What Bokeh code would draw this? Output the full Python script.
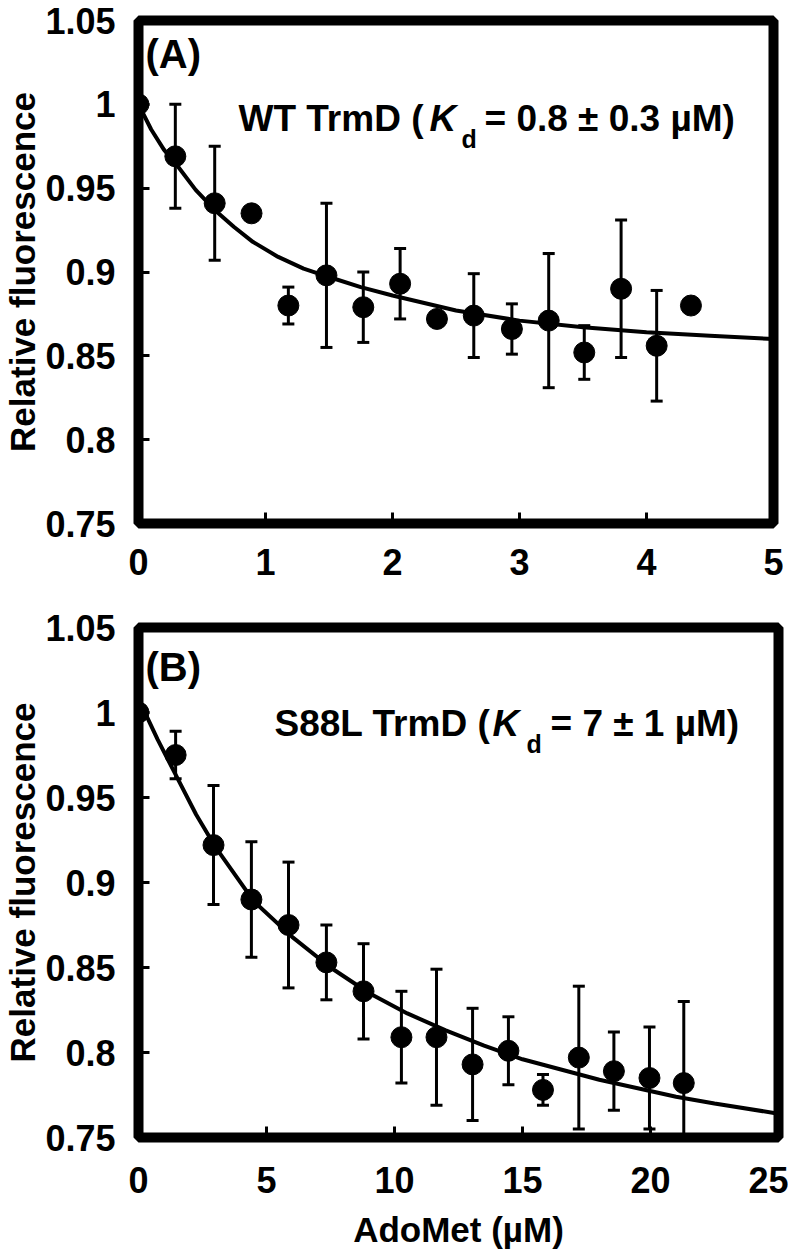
from bokeh.plotting import figure
from bokeh.layouts import column
from bokeh.models import FixedTicker, Label, Range1d, ColumnDataSource
from bokeh.embed import file_html
from bokeh.resources import INLINE

FONT = "Liberation Sans"

# ---------------- Panel A : WT TrmD ----------------
a_conc = [0.0, 0.29, 0.60, 0.89, 1.18, 1.48, 1.77, 2.06, 2.35, 2.64, 2.94, 3.23, 3.51, 3.80, 4.08, 4.35]
a_fluor = [1.000, 0.969, 0.941, 0.935, 0.880, 0.898, 0.879, 0.893, 0.872, 0.874, 0.866, 0.871, 0.852, 0.890, 0.856, 0.880]
a_err = [0.0, 0.031, 0.034, 0.0, 0.011, 0.043, 0.021, 0.021, 0.0, 0.025, 0.015, 0.040, 0.016, 0.041, 0.033, 0.0]
a_fit_x = [0.0, 0.1, 0.2, 0.3, 0.45, 0.6, 0.75, 0.9, 1.1, 1.3, 1.5, 1.75, 2.0, 2.5, 3.0, 3.5, 4.0, 4.5, 5.0]
a_fit_y = [1.000, 0.985, 0.973, 0.964, 0.949, 0.937, 0.927, 0.918, 0.909, 0.902, 0.897, 0.891, 0.886, 0.877, 0.871, 0.867, 0.864, 0.862, 0.860]
a_xticks = [0, 1, 2, 3, 4, 5]
a_xlabels = ["0", "1", "2", "3", "4", "5"]

# ---------------- Panel B : S88L TrmD ----------------
b_conc = [0.0, 1.45, 2.93, 4.41, 5.86, 7.34, 8.79, 10.27, 11.64, 13.05, 14.45, 15.8, 17.2, 18.57, 19.96, 21.3]
b_fluor = [1.000, 0.975, 0.922, 0.890, 0.875, 0.853, 0.836, 0.809, 0.809, 0.793, 0.801, 0.778, 0.797, 0.789, 0.785, 0.782]
b_err = [0.0, 0.014, 0.035, 0.034, 0.037, 0.022, 0.028, 0.027, 0.040, 0.033, 0.020, 0.009, 0.042, 0.023, 0.030, 0.048]
b_fit_x = [0.0, 0.75, 1.5, 2.25, 3.0, 4.5, 6.0, 7.5, 9.0, 10.5, 12.0, 13.5, 15.0, 16.5, 18.0, 19.5, 21.0, 22.5, 25.0]
b_fit_y = [1.008, 0.984, 0.962, 0.940, 0.921, 0.889, 0.868, 0.850, 0.835, 0.823, 0.813, 0.804, 0.796, 0.790, 0.784, 0.779, 0.774, 0.770, 0.764]
b_xticks = [0, 5, 10, 15, 20, 25]
b_xlabels = ["0", "5", "10", "15", "20", "25"]

y_ticks = [0.75, 0.8, 0.85, 0.9, 0.95, 1.0, 1.05]
y_labels = ["0.75", "0.8", "0.85", "0.9", "0.95", "1", "1.05"]

y_title = "Relative fluorescence"
x_title = "AdoMet (\u00b5M)"

Y0, Y1 = 0.75, 1.05


def panel(xs, ys, errs, fx, fy, x_end, xticks, xlabels, frame_w, frame_h,
          top, bottom, xstandoff, xlabel=None):
    p = figure(frame_width=frame_w, frame_height=frame_h,
               x_range=Range1d(0, x_end), y_range=Range1d(Y0, Y1),
               output_backend="svg", toolbar_location=None,
               min_border_left=134, min_border_right=10,
               min_border_top=top, min_border_bottom=bottom,
               background_fill_color="white", border_fill_color="white")
    p.outline_line_color = "black"
    p.outline_line_width = 10
    p.outline_line_alpha = 1.0
    p.xgrid.visible = False
    p.ygrid.visible = False
    for ax in (p.xaxis[0], p.yaxis[0]):
        ax.axis_line_color = None
        ax.major_tick_in = 11
        ax.major_tick_out = 0
        ax.major_tick_line_width = 3
        ax.major_tick_line_color = "black"
        ax.minor_tick_line_color = None
        ax.major_label_text_font = FONT
        ax.major_label_text_font_style = "bold"
        ax.major_label_text_font_size = "36px"
        ax.major_label_text_color = "black"
        ax.axis_label_text_font = FONT
        ax.axis_label_text_font_style = "bold"
        ax.axis_label_text_font_size = "35px"
        ax.axis_label_text_color = "black"
    p.xaxis.ticker = FixedTicker(ticks=xticks)
    p.xaxis.major_label_overrides = {t: l for t, l in zip(xticks, xlabels)}
    p.xaxis.major_label_standoff = xstandoff
    p.yaxis.ticker = FixedTicker(ticks=y_ticks)
    p.yaxis.major_label_overrides = {t: l for t, l in zip(y_ticks, y_labels)}
    p.yaxis.major_label_standoff = 23
    p.yaxis.axis_label = y_title
    p.yaxis.axis_label_standoff = 0
    if xlabel:
        p.xaxis.axis_label = xlabel
        p.xaxis.axis_label_standoff = 14

    ex = [x for x, e in zip(xs, errs) if e > 0]
    ey = [y for y, e in zip(ys, errs) if e > 0]
    ee = [e for e in errs if e > 0]
    src = ColumnDataSource(dict(x=ex, lo=[y - e for y, e in zip(ey, ee)],
                                hi=[y + e for y, e in zip(ey, ee)]))
    p.segment(x0="x", y0="lo", x1="x", y1="hi", source=src,
              line_color="black", line_width=3)
    p.scatter(x="x", y="hi", source=src, marker="dash", size=12,
              line_color="black", line_width=3)
    p.scatter(x="x", y="lo", source=src, marker="dash", size=12,
              line_color="black", line_width=3)
    p.line(fx, fy, line_color="black", line_width=4)
    p.scatter(xs, ys, marker="circle", size=21, fill_color="black",
              line_color="black")
    return p


def placer(p, left, right, top, bottom, x_end):
    """Place text annotations given page-pixel positions inside the frame."""
    def lab(px, py, text, size, style="bold"):
        x = (px - left) / (right - left) * x_end
        y = Y1 - (py - top) / (bottom - top) * (Y1 - Y0)
        p.add_layout(Label(x=x, y=y, text=text, text_font=FONT,
                           text_font_style=style, text_font_size=size,
                           text_color="black", text_baseline="alphabetic",
                           text_align="left"))
    return lab


# Panel A frame: page x 142..777, y 28..531
pA = panel(a_conc, a_fluor, a_err, a_fit_x, a_fit_y, 5, a_xticks, a_xlabels,
           635, 503, 20, 60, 25)
labA = placer(pA, 142, 777, 28, 531, 5)
labA(149, 61, "(A)", "40px")
labA(242, 126, "WT TrmD (", "37px")
labA(433, 126, "K", "37px", "bold italic")
labA(465, 146, "d", "25px")
labA(488, 126, "= 0.8 \u00b1 0.3 \u00b5M)", "37px")

# Panel B frame: page x 142..782, y 635..1145
pB = panel(b_conc, b_fluor, b_err, b_fit_x, b_fit_y, 25, b_xticks, b_xlabels,
           640, 510, 44, 108, 29, x_title)
labB = placer(pB, 142, 782, 635, 1145, 25)
labB(149, 674, "(B)", "40px")
labB(278, 731, "S88L TrmD (", "37px")
labB(496, 731, "K", "37px", "bold italic")
labB(530, 751, "d", "25px")
labB(554, 731, "= 7 \u00b1 1 \u00b5M)", "37px")

layout = column(pA, pB, spacing=0)
open("out.html", "w").write(file_html(layout, INLINE))
